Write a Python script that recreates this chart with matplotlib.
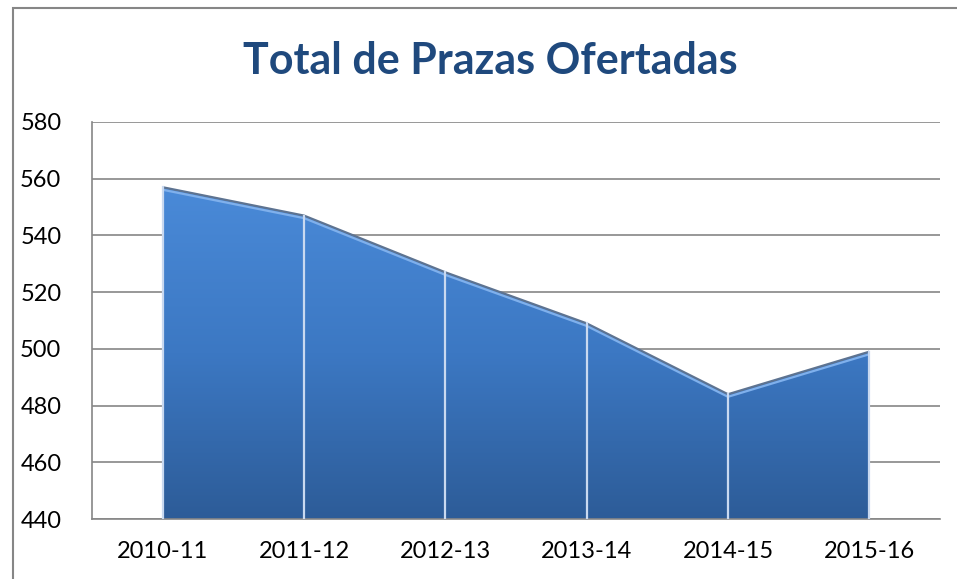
import numpy as np
import matplotlib.pyplot as plt
from matplotlib.patches import Rectangle
from matplotlib.colors import LinearSegmentedColormap

# Data
seasons = ['2010-11', '2011-12', '2012-13', '2013-14', '2014-15', '2015-16']
places = [557, 547, 527, 509, 484, 499]
y_ticks = [440, 460, 480, 500, 520, 540, 560, 580]

plt.rcParams['font.family'] = ['Lato', 'DejaVu Sans']

fig = plt.figure(figsize=(9.57, 5.79), dpi=100)
ax = fig.add_axes([0.0961, 0.1036, 0.8861, 0.6857])

x = np.arange(len(seasons))
y = np.array(places)
ymin, ymax = y_ticks[0], y_ticks[-1]

# area with vertical gradient, clipped to the filled polygon
poly = ax.fill_between(x, ymin, y, color='none', zorder=2)
grad = np.linspace(0, 1, 256).reshape(-1, 1)
cmap = LinearSegmentedColormap.from_list('blues', ['#2d5c98', '#3c78c3', '#4a8ad8'])
img = ax.imshow(grad, cmap=cmap, aspect='auto', origin='lower',
                extent=[x[0], x[-1], ymin, y.max()], zorder=2)
img.set_clip_path(poly.get_paths()[0], transform=ax.transData)

# top edge highlight
ax.plot(x, y, color='#5d7391', lw=1.6, zorder=3, solid_capstyle='butt')
ax.plot(x, y - 0.9, color='#7fb0ec', lw=1.6, zorder=3, solid_capstyle='butt')

# drop lines
for xi, yi in zip(x, y):
    ax.plot([xi, xi], [ymin, yi], color='#c9d9f0', lw=1.6, zorder=4)

ax.set_xlim(-0.5, len(seasons) - 0.5)
ax.set_ylim(ymin, ymax)
ax.set_yticks(y_ticks)
ax.set_xticks(x)
ax.set_xticklabels(seasons)
ax.tick_params(axis='both', length=0, labelsize=17, colors='black')
ax.tick_params(axis='y', pad=22)
ax.tick_params(axis='x', pad=16)

ax.grid(axis='y', color='#868686', lw=1.2, zorder=1)
ax.set_axisbelow(True)
for side in ['top', 'right']:
    ax.spines[side].set_visible(False)
for side in ['left', 'bottom']:
    ax.spines[side].set_color('#868686')
    ax.spines[side].set_linewidth(1.2)

fig.text(0.512, 0.895, 'Total de Prazas Ofertadas', ha='center', va='center',
         fontsize=31, fontweight='bold', color='#1f497d')

# outer chart frame
fig.patches.append(Rectangle((13 / 957, -0.01), 1.0, 1 - (-0.01) - 8 / 579,
                             transform=fig.transFigure, fill=False,
                             edgecolor='#868686', lw=1.5))

fig.savefig('out.png', dpi=100)
